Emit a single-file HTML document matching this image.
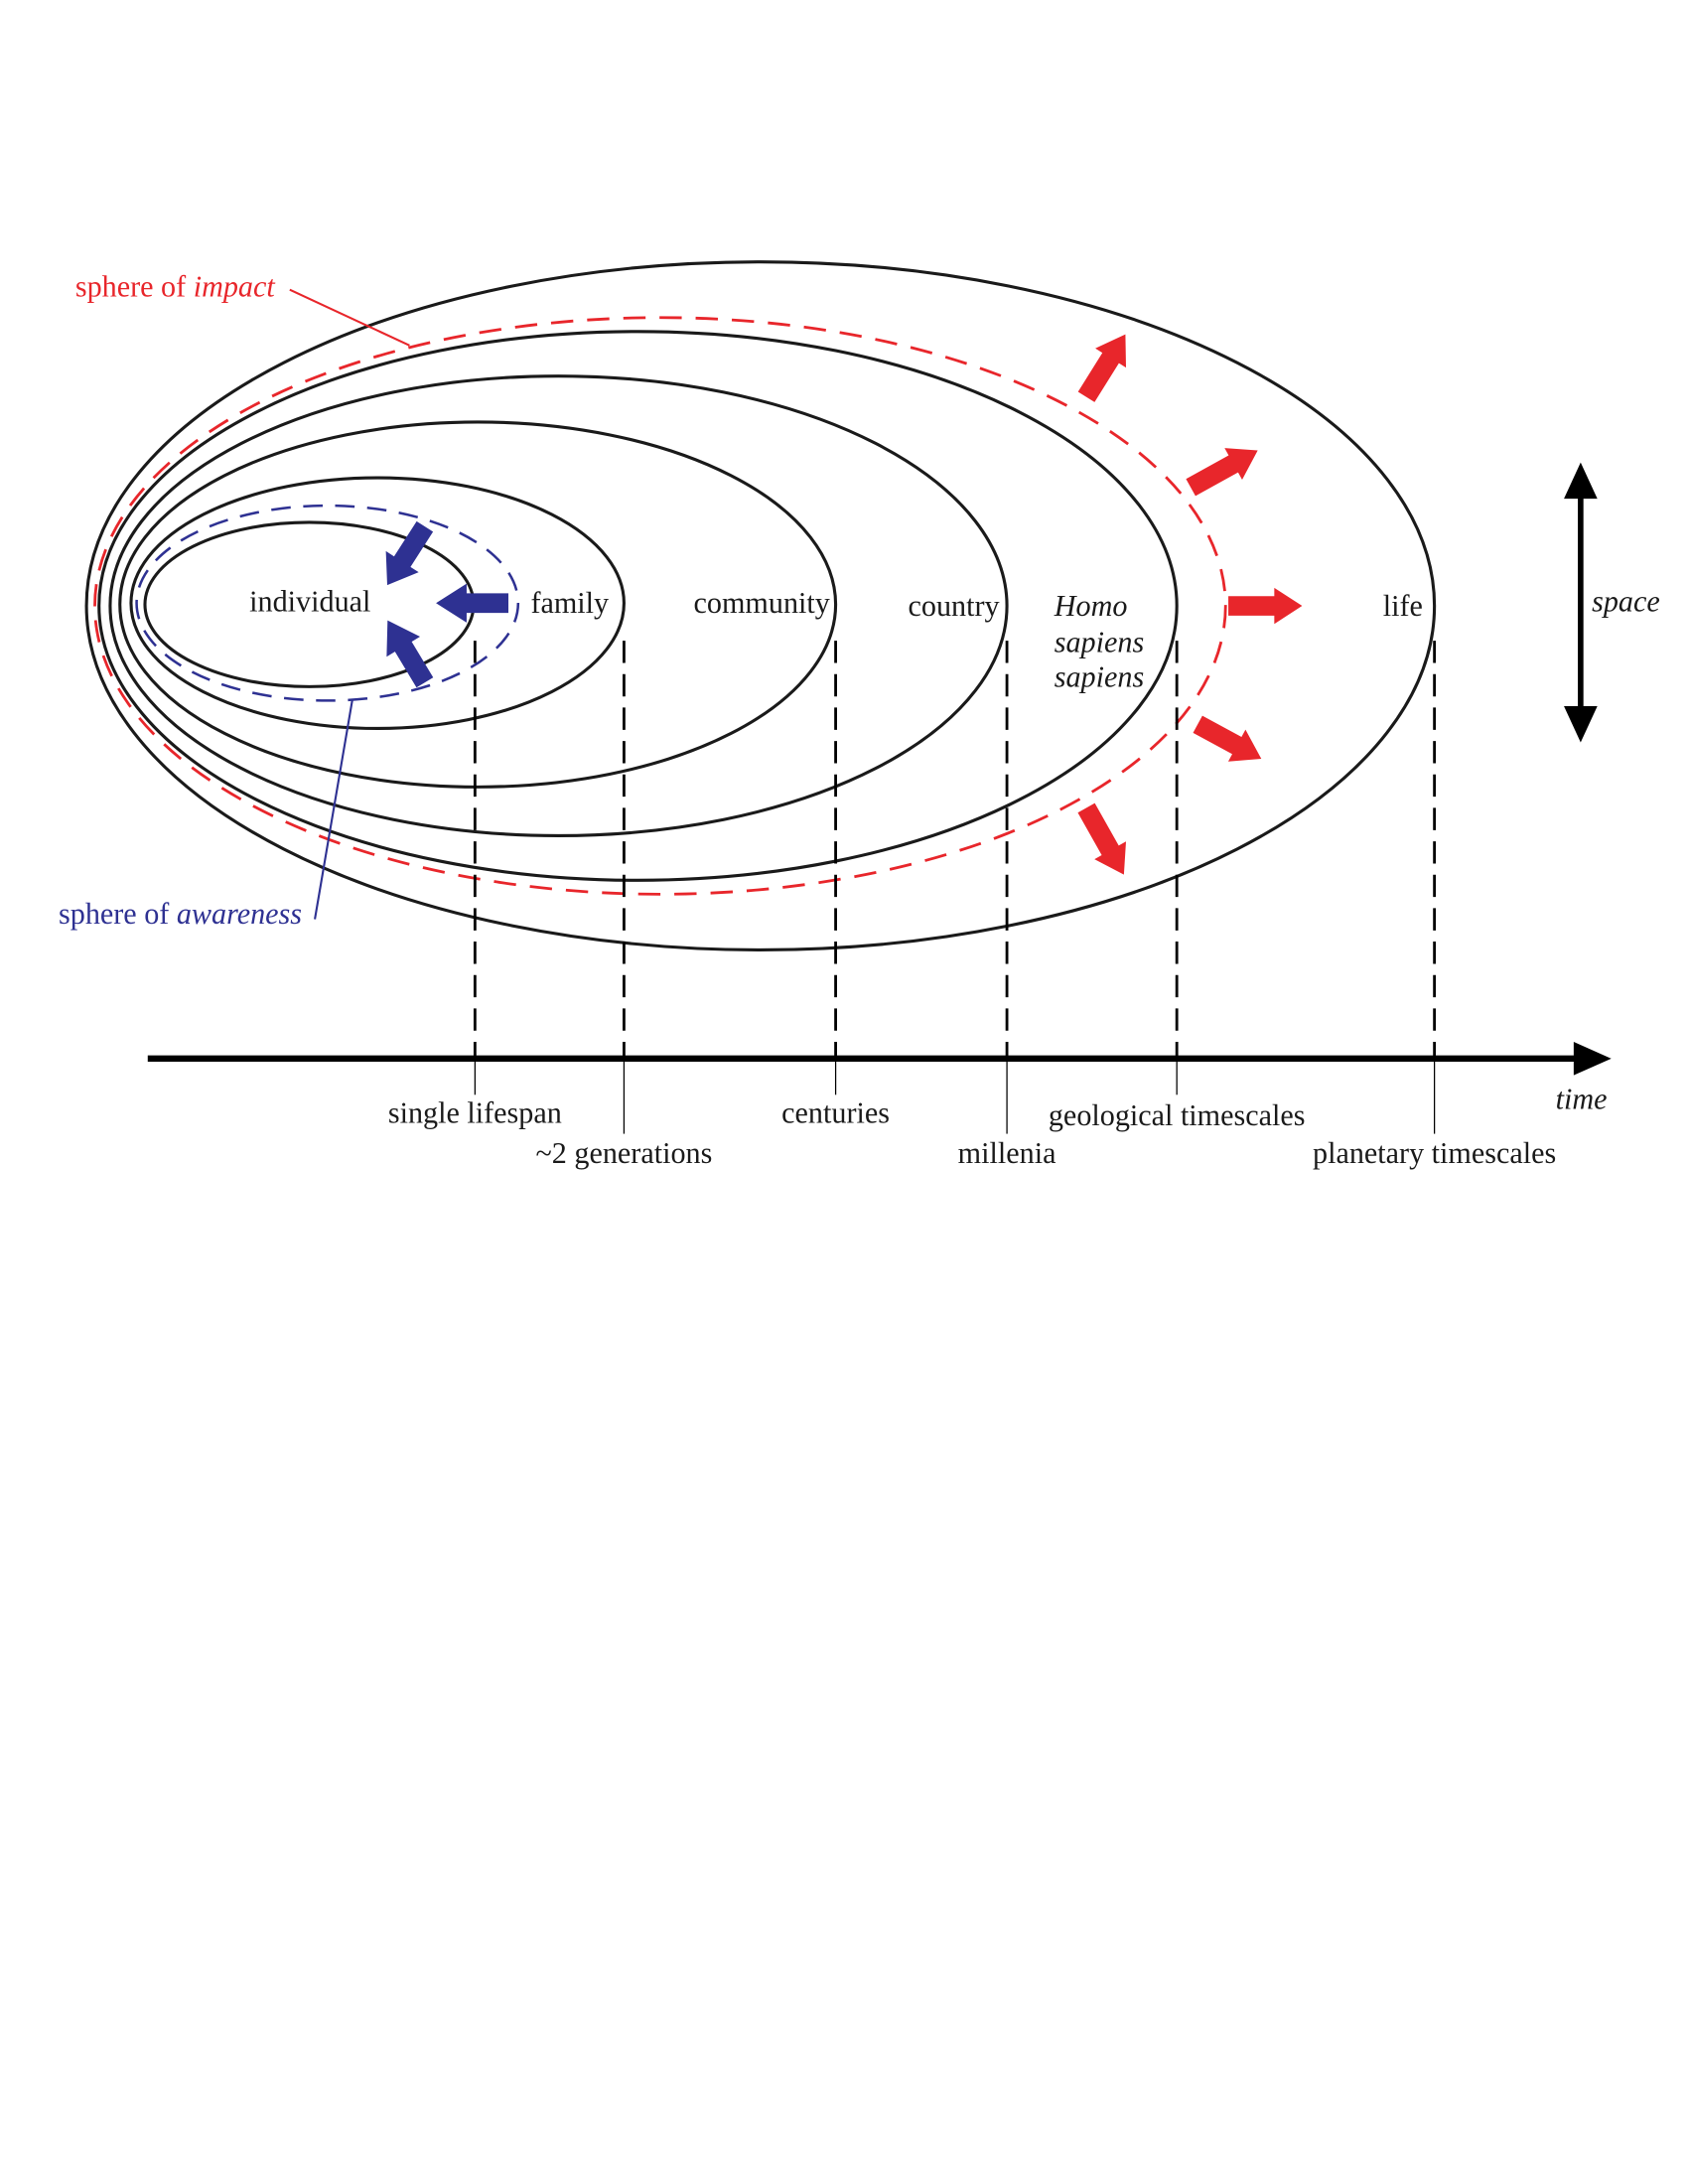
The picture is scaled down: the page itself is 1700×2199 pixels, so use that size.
<!DOCTYPE html>
<html><head><meta charset="utf-8"><style>html,body{margin:0;padding:0;background:#fff}svg{display:block}</style></head>
<body>
<svg width="1700" height="2199" viewBox="0 0 1212 1568" xmlns="http://www.w3.org/2000/svg" font-family="'Liberation Serif', serif" font-size="21.5">
<rect width="1224" height="1583" fill="#fff"/>
<g fill="none" stroke="#1a1a1a" stroke-width="2.2">
<ellipse cx="222" cy="434" rx="118" ry="59"/>
<ellipse cx="271" cy="433" rx="177" ry="90"/>
<ellipse cx="343" cy="434" rx="257" ry="131"/>
<ellipse cx="401" cy="435" rx="322" ry="165"/>
<ellipse cx="458" cy="435" rx="387" ry="197"/>
<ellipse cx="546" cy="435" rx="484" ry="247"/>
</g>
<ellipse cx="474" cy="435" rx="406" ry="207" fill="none" stroke="#e8262b" stroke-width="2" stroke-dasharray="16 10"/>
<ellipse cx="235" cy="433" rx="137" ry="70" fill="none" stroke="#2e3192" stroke-width="1.8" stroke-dasharray="14 9"/>
<g stroke="#000" stroke-width="2" stroke-dasharray="16 8">
<line x1="341" y1="460" x2="341" y2="760"/>
<line x1="448" y1="460" x2="448" y2="760"/>
<line x1="600" y1="460" x2="600" y2="760"/>
<line x1="723" y1="460" x2="723" y2="760"/>
<line x1="845" y1="460" x2="845" y2="760"/>
<line x1="1030" y1="460" x2="1030" y2="760"/>
</g>
<g stroke="#000" stroke-width="0.9">
<line x1="341" y1="760" x2="341" y2="786"/>
<line x1="448" y1="760" x2="448" y2="814"/>
<line x1="600" y1="760" x2="600" y2="786"/>
<line x1="723" y1="760" x2="723" y2="814"/>
<line x1="845" y1="760" x2="845" y2="786"/>
<line x1="1030" y1="760" x2="1030" y2="814"/>
</g>
<line x1="106" y1="760" x2="1132" y2="760" stroke="#000" stroke-width="4.5"/>
<polygon points="1130,748 1157,760 1130,772" fill="#000"/>
<line x1="1135" y1="355" x2="1135" y2="510" stroke="#000" stroke-width="4"/>
<polygon points="1123,358 1135,332 1147,358" fill="#000"/>
<polygon points="1123,507 1135,533 1147,507" fill="#000"/>
<g fill="#2e3192">
<g transform="translate(305,378) rotate(122.7)"><polygon points="0,-7 30,-7 30,-14 50,0 30,14 30,7 0,7"/></g>
<g transform="translate(365,433) rotate(180)"><polygon points="0,-7 30,-7 30,-14 52,0 30,14 30,7 0,7"/></g>
<g transform="translate(305,490) rotate(-121)"><polygon points="0,-7 30,-7 30,-14 52,0 30,14 30,7 0,7"/></g>
</g>
<g fill="#e8262b">
<g transform="translate(780,285) rotate(-58)"><polygon points="0,-7 33,-7 33,-13 53,0 33,13 33,7 0,7"/></g>
<g transform="translate(855,350) rotate(-29)"><polygon points="0,-7 35,-7 35,-13 55,0 35,13 35,7 0,7"/></g>
<g transform="translate(882,435)"><polygon points="0,-7 33,-7 33,-13 53,0 33,13 33,7 0,7"/></g>
<g transform="translate(860,520) rotate(28.5)"><polygon points="0,-7 32,-7 32,-13 52,0 32,13 32,7 0,7"/></g>
<g transform="translate(780,580) rotate(60.6)"><polygon points="0,-7 35,-7 35,-13 55,0 35,13 35,7 0,7"/></g>
</g>
<line x1="208" y1="208" x2="294" y2="248" stroke="#e8262b" stroke-width="1.5"/>
<line x1="226" y1="660" x2="253" y2="502" stroke="#2e3192" stroke-width="1.5"/>
<text x="54" y="213" fill="#e8262b">sphere of <tspan font-style="italic">impact</tspan></text>
<text x="42" y="663" fill="#2e3192">sphere of <tspan font-style="italic">awareness</tspan></text>
<g fill="#1a1a1a">
<text x="179" y="439">individual</text>
<text x="381" y="440">family</text>
<text x="498" y="440">community</text>
<text x="652" y="442">country</text>
<text x="757" y="442" font-style="italic">Homo</text>
<text x="757" y="468" font-style="italic">sapiens</text>
<text x="757" y="493" font-style="italic">sapiens</text>
<text x="993" y="442">life</text>
<text x="1143" y="439" font-style="italic">space</text>
<text x="1117" y="796" font-style="italic">time</text>
<text x="341" y="806" text-anchor="middle">single lifespan</text>
<text x="448" y="835" text-anchor="middle">~2 generations</text>
<text x="600" y="806" text-anchor="middle">centuries</text>
<text x="723" y="835" text-anchor="middle">millenia</text>
<text x="845" y="808" text-anchor="middle">geological timescales</text>
<text x="1030" y="835" text-anchor="middle">planetary timescales</text>
</g>
</svg>
</body></html>
